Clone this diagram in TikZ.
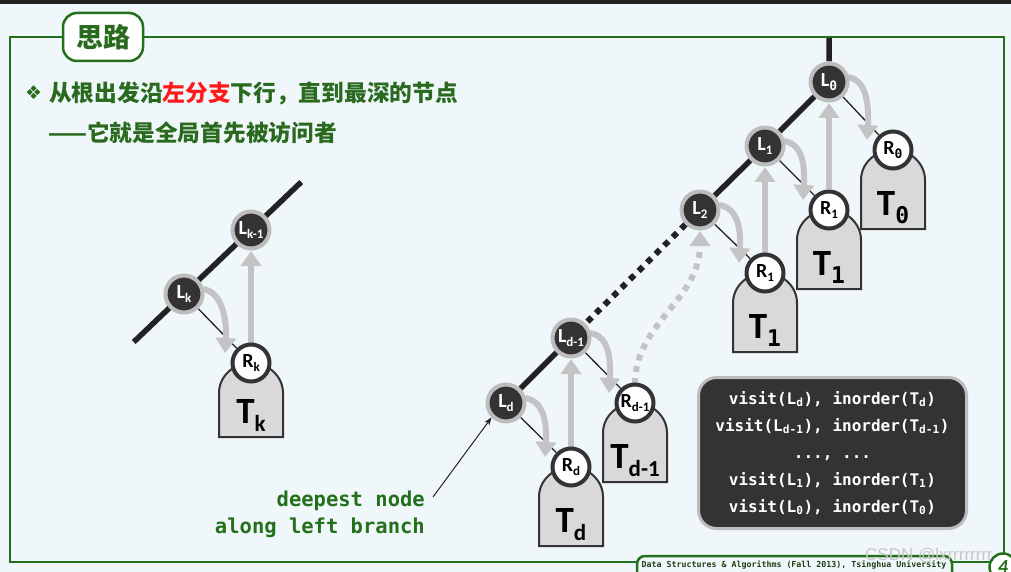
\documentclass[tikz,border=0pt]{standalone}
\usepackage{fontspec}
\setmainfont{Carlito}
\newfontfamily\cjk{Noto Sans CJK SC}
\newfontfamily\monof{DejaVu Sans Mono}
\newfontfamily\dvs{DejaVu Sans}
\newfontfamily\lsans{Liberation Sans}
\usetikzlibrary{arrows.meta,calc}
\pgfdeclarelayer{bgzero}
\pgfdeclarelayer{back}
\pgfsetlayers{bgzero,back,main}
\definecolor{bgc}{HTML}{EFF7FB}
\definecolor{fgreen}{HTML}{23701A}
\definecolor{tgreen}{HTML}{2A6A1E}
\definecolor{redc}{HTML}{FF1A1A}
\definecolor{dnode}{HTML}{333333}
\definecolor{ring}{HTML}{BDBDBD}
\definecolor{garr}{HTML}{C4C4C4}
\definecolor{tboxc}{HTML}{D9D9D9}
\definecolor{dline}{HTML}{222222}
\definecolor{footc}{HTML}{1F3F14}
\newcommand\nl[2]{#1\raisebox{-3.5pt}{\fontsize{13}{13}\selectfont #2}}
\newcommand\tl[1]{{\fontsize{37}{37}\selectfont T}\raisebox{-8pt}{\fontsize{23}{23}\selectfont #1}}
\newcommand\dg[1]{{\monof #1}}
\newcommand\tshape[4]{%
  \draw[tboxst] ($(#1)+(-32,#3)$) -- ($(#1)+(-32,30)$) arc[start angle=180,end angle=360,x radius=32,y radius=30] -- ($(#1)+(32,#3)$) -- cycle;
  \node[tlab] (#2) at ($(#1)+(0,#3-14)$) {#4};}
\newcommand\curv[2]{%
  \draw[garrow] ($(#1)+(19,-5)$) .. controls ($(#1)+(38,-2)$) and ($(#2)+(-24,-44)$) .. ($(#2)+(-26,-10)$);}
\tikzset{
  lnode/.style={circle, fill=dnode, draw=ring, line width=4pt, minimum size=37pt, inner sep=0pt, text=white, font=\bfseries\fontsize{20}{20}\selectfont},
  rnode/.style={circle, fill=white, draw=dnode, line width=4pt, minimum size=37pt, inner sep=0pt, text=black, font=\bfseries\fontsize{20}{20}\selectfont},
  spine/.style={line width=5.5pt, draw=dline},
  dotspine/.style={line width=6pt, draw=dline, dash pattern=on 6pt off 6pt},
  edgeln/.style={line width=1.3pt, draw=dline},
  tboxst/.style={fill=tboxc, draw=dnode, line width=2pt},
  tlab/.style={anchor=base, inner sep=0pt, text=black, font=\bfseries},
  garrow/.style={line width=6pt, draw=garr, -{Triangle[width=20pt,length=15pt]}},
  gdots/.style={garrow, dash pattern=on 6pt off 6pt},
  frame/.style={draw=fgreen, line width=2.5pt},
  codebox/.style={rounded corners=18pt, fill=dnode, draw=ring, line width=3pt, minimum width=268pt, minimum height=151pt, text=white, align=center, font=\monof\bfseries\fontsize{16}{27}\selectfont},
  annot/.style={text=fgreen, align=right, inner sep=0pt, font=\monof\bfseries\fontsize{20.5}{27}\selectfont},
  annarrow/.style={draw=dline, line width=1pt, -{Stealth[length=8pt,width=6pt]}},
  cjktext/.style={anchor=west, inner sep=0pt, text=tgreen, font=\cjk\bfseries\fontsize{22.7}{22.7}\selectfont}
}
\begin{document}
\begin{tikzpicture}[x=1pt,y=-1pt]
\useasboundingbox (0,0) rectangle (1011,572);
\begin{pgfonlayer}{bgzero}
\fill[bgc] (0,0) rectangle (1011,572);
\fill[dline] (0,0) rectangle (1011,4);
\end{pgfonlayer}
% frame
\draw[frame] (63,37) -- (10,37) -- (10,562) -- (637,562);
\draw[frame] (143,37) -- (1004,37) -- (1004,553);
\draw[frame] (952,562) -- (991,562);
\draw[frame, fill=bgc, rounded corners=8pt] (637,556) rectangle (952,592);
\node[draw=fgreen, line width=2.5pt, fill=white, rounded corners=14pt, minimum width=80pt, minimum height=48pt, inner sep=0pt, text=tgreen, font=\cjk\bfseries\fontsize{27}{27}\selectfont] (title) at (103,37) {思路};
% text
\node[anchor=west, inner sep=0pt, text=tgreen, font=\dvs\fontsize{19}{19}\selectfont] (bul) at (25,93) {❖};
\node[cjktext] (t1) at (49,93) {从根出发沿\textcolor{redc}{左分支}下行，直到最深的节点};
\node[cjktext] (t2) at (48,133) {——它就是全局首先被访问者};
% nodes
\node[lnode] (L0) at (829,82) {\nl{L}{\dg{0}}};
\node[lnode] (L1) at (765,146) {\nl{L}{1}};
\node[lnode] (L2) at (700,210) {\nl{L}{2}};
\node[lnode] (Ld1) at (571,338) {\nl{L}{d-1}};
\node[lnode] (Ld) at (506,403) {\nl{L}{d}};
\node[rnode] (R0) at (893,150) {\nl{R}{\dg{0}}};
\node[rnode] (R1a) at (829,210) {\nl{R}{1}};
\node[rnode] (R1b) at (765,273) {\nl{R}{1}};
\node[rnode] (Rd1) at (635,403) {\nl{R}{d-1}};
\node[rnode] (Rd) at (571,467) {\nl{R}{d}};
\node[lnode] (Lk) at (184,294) {\nl{L}{k}};
\node[lnode] (Lk1) at (251,230) {\nl{L}{k-1}};
\node[rnode] (Rk) at (251,363) {\nl{R}{k}};
% code box
\node[codebox] (code) at (832.5,453) {visit(L\textsubscript{d}), inorder(T\textsubscript{d})\\visit(L\textsubscript{d-1}), inorder(T\textsubscript{d-1})\\..., ...\\visit(L\textsubscript{1}), inorder(T\textsubscript{1})\\visit(L\textsubscript{0}), inorder(T\textsubscript{0})};
% annotation
\node[annot, anchor=east] (ann) at (425,514) {deepest node\\along left branch};
\coordinate (annA) at (433,497);
\draw[annarrow] (annA) -- (Ld.225);
% footer
\node[font=\monof\bfseries\fontsize{8.3}{8.3}\selectfont, text=footc, inner sep=0pt] (foot) at (794,565) {Data Structures \& Algorithms (Fall 2013), Tsinghua University};
\node[font=\lsans\fontsize{17}{17}\selectfont, text=black!22, inner sep=0pt] (wm) at (929,556) {CSDN @lxrrrrrrrr};
\node[circle, draw=fgreen, fill=white, line width=2.5pt, minimum size=27pt, inner sep=0pt, font=\bfseries\itshape\fontsize{20}{20}\selectfont, text=fgreen] (pg) at (1003,567) {4};
% background drawings
\begin{pgfonlayer}{back}
\coordinate (top) at (829,38);
\coordinate (kA) at ($(Lk)!-0.75!(Lk1)$);
\coordinate (kB) at ($(Lk1)!-0.75!(Lk)$);
\draw[spine] (top) -- (L0) -- (L1) -- (L2);
\draw[dotspine] (L2) -- (Ld1);
\draw[spine] (Ld1) -- (Ld);
\draw[spine] (kA) -- (kB);
\draw[edgeln] (L0) -- (R0);
\draw[edgeln] (L1) -- (R1a);
\draw[edgeln] (L2) -- (R1b);
\draw[edgeln] (Ld1) -- (Rd1);
\draw[edgeln] (Ld) -- (Rd);
\draw[edgeln] (Lk) -- (Rk);
\tshape{R0}{T0}{79}{\tl{\dg{0}}}
\tshape{R1a}{T1a}{79}{\tl{\dg{1}}}
\tshape{R1b}{T1b}{79}{\tl{\dg{1}}}
\tshape{Rd1}{Td1}{79}{\tl{d-1}}
\tshape{Rd}{Td}{79}{\tl{d}}
\tshape{Rk}{Tk}{74}{\tl{k}}
\curv{L0}{R0}
\curv{L1}{R1a}
\curv{L2}{R1b}
\curv{Ld1}{Rd1}
\curv{Ld}{Rd}
\curv{Lk}{Rk}
\draw[garrow] (R1a) -- ($(L0)+(0,21)$);
\draw[garrow] (R1b) -- ($(L1)+(0,21)$);
\draw[garrow] (Rd) -- ($(Ld1)+(0,21)$);
\draw[garrow] (Rk) -- ($(Lk1)+(0,21)$);
\draw[gdots] ($(Rd1)+(0,-19)$) .. controls ($(Rd1)+(0,-80)$) and ($(L2)+(0,90)$) .. ($(L2)+(0,21)$);
\end{pgfonlayer}
\end{tikzpicture}
\end{document}
